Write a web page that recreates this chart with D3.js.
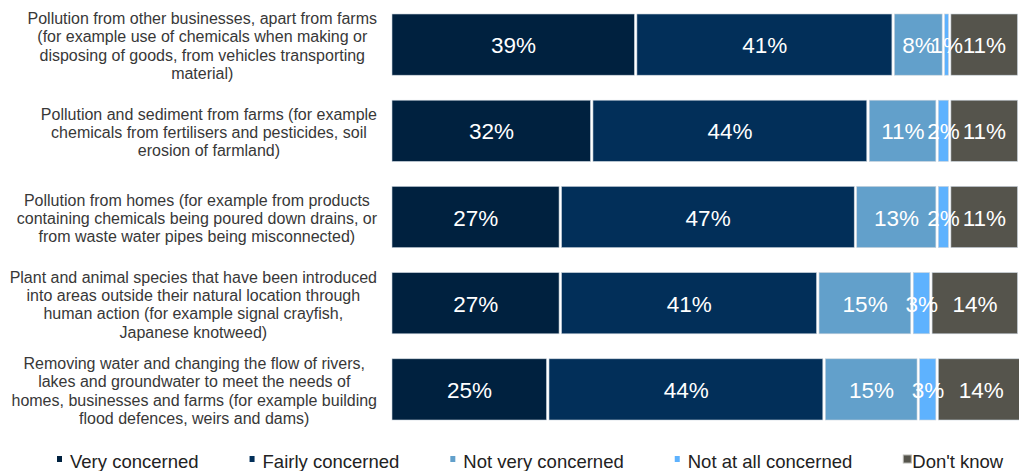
<!DOCTYPE html>
<html>
<head>
<meta charset="utf-8">
<script src="https://cdn.jsdelivr.net/npm/d3@7"></script>
<style>
  body { margin: 0; background: #fff; }
  svg { display: block; font-family: Arial, "Liberation Sans", sans-serif; }
</style>
</head>
<body>
<div id="chart"></div>
<script>
// categories (one per bar, lines already split as in the original)
const categories = [
  ['Pollution from other businesses, apart from farms', '(for example use of chemicals when making or', 'disposing of goods, from vehicles transporting', 'material)'],
  ['Pollution and sediment from farms (for example', 'chemicals from fertilisers and pesticides, soil', 'erosion of farmland)'],
  ['Pollution from homes (for example from products', 'containing chemicals being poured down drains, or', 'from waste water pipes being misconnected)'],
  ['Plant and animal species that have been introduced', 'into areas outside their natural location through', 'human action (for example signal crayfish,', 'Japanese knotweed)'],
  ['Removing water and changing the flow of rivers,', 'lakes and groundwater to meet the needs of', 'homes, businesses and farms (for example building', 'flood defences, weirs and dams)']
];

const seriesNames = ['Very concerned', 'Fairly concerned', 'Not very concerned', 'Not at all concerned', "Don't know"];
const seriesColors = ['#00213f', '#022f59', '#62a0cb', '#5eb2fe', '#55544c'];

// percentages per series, in the category order above
const veryConcerned = [39, 32, 27, 27, 25];
const fairlyConcerned = [41, 44, 47, 41, 44];
const notVeryConcerned = [8, 11, 13, 15, 15];
const notAtAllConcerned = [1, 2, 2, 3, 3];
const dontKnow = [11, 11, 11, 14, 14];

const seriesValues = [veryConcerned, fairlyConcerned, notVeryConcerned, notAtAllConcerned, dontKnow];

const width = 1019;
const height = 471;

const svg = d3.select('#chart').append('svg')
  .attr('width', width)
  .attr('height', height);

const xScale = d3.scaleLinear().domain([0, 100]).range([391, 1019]);
const yScale = d3.scaleBand()
  .domain(d3.range(categories.length))
  .range([1.5, 432.5])
  .paddingInner(0.29)
  .paddingOuter(0.145);

// build stacked rows
const rows = categories.map((c, i) => {
  let acc = 0;
  return seriesValues.map((vals, s) => {
    const seg = { row: i, series: s, x0: acc, x1: acc + vals[i], value: vals[i] };
    acc += vals[i];
    return seg;
  });
});
const segments = rows.flat();

const bars = svg.append('g').attr('class', 'bars');
bars.selectAll('rect')
  .data(segments)
  .join('rect')
  .attr('x', (d) => xScale(d.x0) + 1)
  .attr('y', (d) => yScale(d.row))
  .attr('width', (d) => Math.max(0, xScale(d.x1) - xScale(d.x0) - 2.5))
  .attr('height', yScale.bandwidth())
  .attr('fill', (d) => seriesColors[d.series])
  .attr('stroke', '#c9d3dc')
  .attr('stroke-width', 0.6);

bars.selectAll('text')
  .data(segments)
  .join('text')
  .attr('x', (d) => (xScale(d.x0) + xScale(d.x1)) / 2)
  .attr('y', (d) => yScale(d.row) + yScale.bandwidth() / 2 + 8.5)
  .attr('text-anchor', 'middle')
  .attr('fill', '#fff')
  .style('font-size', '22.5px')
  .text((d) => d.value + '%');

// category labels: block right edge ~377, lines centred inside the block
const labels = svg.append('g').attr('class', 'labels');
const lineH = 18.3;
categories.forEach((lines, i) => {
  const g = labels.append('g');
  const cy = yScale(i) + yScale.bandwidth() / 2 + 1.5;
  const texts = g.selectAll('text')
    .data(lines)
    .join('text')
    .attr('y', (d, k) => cy + (k - (lines.length - 1) / 2) * lineH + 5.5)
    .attr('text-anchor', 'middle')
    .attr('fill', '#383838')
    .style('font-size', '16px')
    .text((d) => d);
  let maxW = 0;
  texts.each(function () { maxW = Math.max(maxW, this.getComputedTextLength()); });
  texts.attr('x', 377 - maxW / 2);
});

// legend, flowing left to right
const legend = svg.append('g').attr('class', 'legend');
let lx = 57;
seriesNames.forEach((name, s) => {
  const item = legend.append('g').attr('transform', `translate(${lx}, 461)`);
  const offset = s === 4 ? 9 : 13;
  if (s === 4) {
    item.append('rect').attr('x', 0).attr('y', -6).attr('width', 8).attr('height', 8)
      .attr('fill', seriesColors[s]).attr('stroke', '#b5b5b0').attr('stroke-width', 1);
  } else {
    item.append('rect').attr('x', 0).attr('y', -5).attr('width', 5).attr('height', 6)
      .attr('fill', seriesColors[s]);
  }
  const t = item.append('text')
    .attr('x', offset)
    .attr('y', 6.5)
    .attr('fill', '#222')
    .style('font-size', '18.5px')
    .text(name);
  lx += offset + t.node().getComputedTextLength() + 51;
});
</script>
</body>
</html>
